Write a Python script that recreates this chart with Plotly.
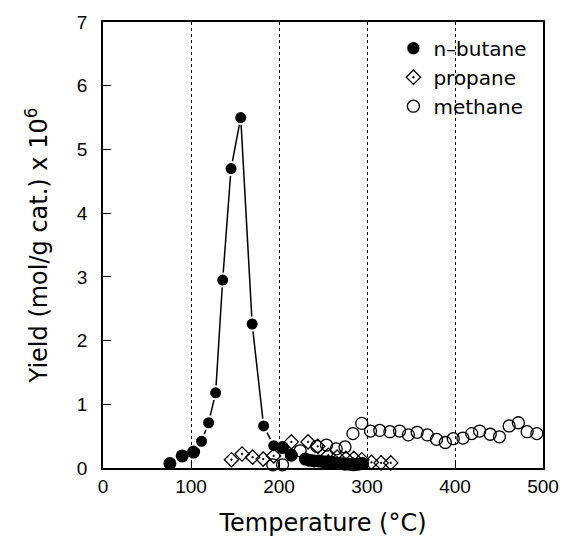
import plotly.graph_objects as go

# n-butane (filled circles)
butane_x = [76, 90, 103, 112, 120, 128, 136, 145.5, 156.5, 169.5, 182.5, 194, 204, 214,
            230, 235, 240, 245, 250, 255, 260, 265, 270, 275, 280, 285, 290, 295]
butane_y = [0.07, 0.19, 0.25, 0.42, 0.71, 1.18, 2.95, 4.70, 5.50, 2.26, 0.66, 0.35, 0.32, 0.20,
            0.14, 0.12, 0.11, 0.11, 0.10, 0.10, 0.09, 0.08, 0.07, 0.06, 0.06, 0.05, 0.06, 0.07]
# points joined by the solid curve (indices into butane arrays)
curve_idx = list(range(3, 12))

# propane (open diamonds with dot)
propane_x = [146, 158, 170, 182, 194, 214, 233, 244, 256, 266, 276, 285, 294, 305, 316, 327]
propane_y = [0.13, 0.22, 0.17, 0.14, 0.19, 0.41, 0.41, 0.34, 0.20, 0.17, 0.15, 0.15, 0.13,
             0.09, 0.08, 0.08]

# methane (open circles)
methane_x = [193, 204, 224, 243, 254, 265, 275, 284, 294, 304, 314.5, 326, 337, 347, 357,
             368.5, 379, 389, 398, 409, 419, 428, 440, 450.5, 461.5, 472, 482, 493]
methane_y = [0.05, 0.05, 0.27, 0.34, 0.36, 0.30, 0.33, 0.54, 0.70, 0.58, 0.59, 0.57, 0.58,
             0.52, 0.56, 0.52, 0.45, 0.40, 0.46, 0.47, 0.54, 0.58, 0.53, 0.49, 0.66, 0.71,
             0.57, 0.54]

x_ticks = [0, 100, 200, 300, 400, 500]
y_ticks = [0, 1, 2, 3, 4, 5, 6, 7]

title_font = dict(family="DejaVu Sans", size=24, color="black")
tick_font = dict(family="Liberation Sans", size=19, color="black")

fig = go.Figure()

fig.add_trace(go.Scatter(
    x=[butane_x[i] for i in curve_idx], y=[butane_y[i] for i in curve_idx],
    mode="lines", line=dict(color="black", width=1.5), showlegend=False, hoverinfo="skip"))

peak_set = set(curve_idx)
fig.add_trace(go.Scatter(
    x=butane_x, y=butane_y, mode="markers", name="n\u2013butane", cliponaxis=False,
    marker=dict(symbol="circle", size=13, color="black",
                line=dict(color="white", width=[2 if i in peak_set else 0 for i in range(len(butane_x))]))))

fig.add_trace(go.Scatter(
    x=propane_x, y=propane_y, mode="markers", name="propane", cliponaxis=False,
    marker=dict(symbol="diamond-open-dot", size=11, color="black", line=dict(width=1.3))))

fig.add_trace(go.Scatter(
    x=methane_x, y=methane_y, mode="markers", name="methane", cliponaxis=False,
    marker=dict(symbol="circle-open", size=12, color="black", line=dict(width=1.3))))

fig.update_layout(
    width=571, height=544,
    margin=dict(l=103, r=20, t=20, b=76),
    paper_bgcolor="white", plot_bgcolor="white",
    showlegend=True,
    legend=dict(x=0.66, y=0.985, xanchor="left", yanchor="top",
                font=dict(family="DejaVu Sans", size=20, color="black"),
                bgcolor="rgba(0,0,0,0)", itemsizing="trace", tracegroupgap=0),
)

fig.update_xaxes(
    range=[0, 500], tickvals=x_ticks, ticktext=[str(v) for v in x_ticks],
    showline=True, linecolor="black", linewidth=1.5, mirror=True,
    ticks="inside", ticklen=8, tickcolor="black", tickwidth=1.2,
    showgrid=True, gridcolor="black", griddash="dot", gridwidth=0.8,
    zeroline=False, tickfont=tick_font,
    title=dict(text="Temperature (\u00b0C)", font=title_font, standoff=19),
)
fig.update_yaxes(
    range=[0, 7], tickvals=y_ticks, ticktext=[str(v) for v in y_ticks],
    showline=True, linecolor="black", linewidth=1.5, mirror=True,
    ticks="inside", ticklen=8, tickcolor="black", tickwidth=1.2,
    showgrid=False, zeroline=False, tickfont=tick_font, ticklabelstandoff=10,
    title=dict(text="Yield (mol/g cat.) x 10<sup>6</sup>", font=title_font, standoff=22),
)

fig.write_html("out.html")
